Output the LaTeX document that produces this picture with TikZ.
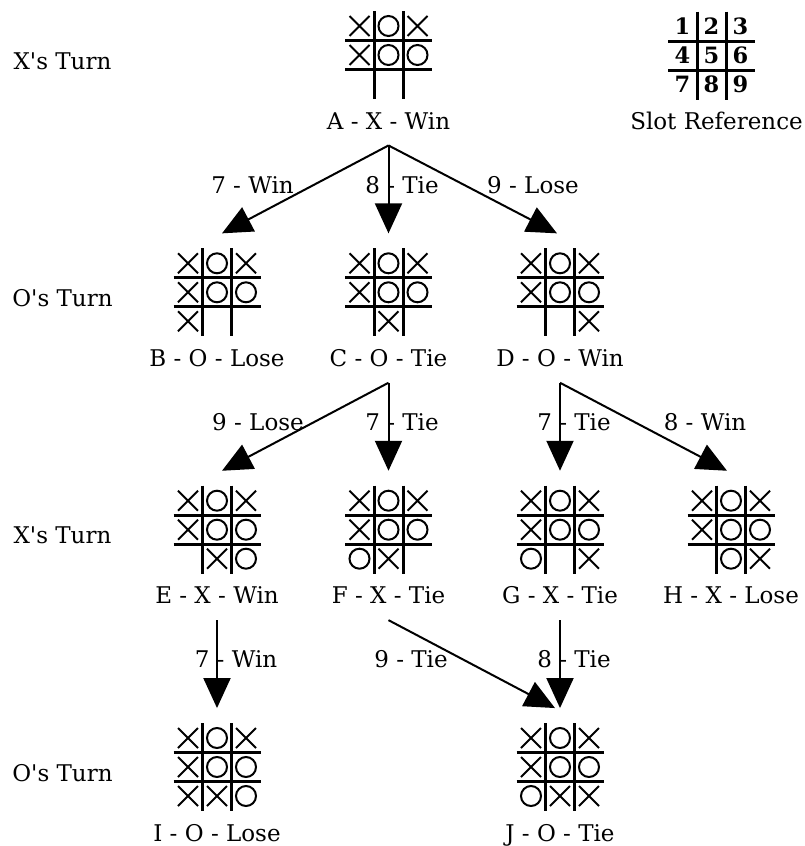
\documentclass[tikz,border=0pt]{standalone}
\usepackage{fontspec}
\setmainfont{DejaVu Serif}[Ligatures=TeXOff]
\usetikzlibrary{arrows.meta}

\tikzset{
  gridline/.style={line width=3pt},
  markline/.style={line width=2pt},
  edge/.style={line width=2pt, -{Triangle[length=30pt,width=27pt]}},
  statebox/.style={draw=none, minimum width=100pt, minimum height=149pt, inner sep=0pt},
  caption/.style={font=\fontsize{23}{27}\selectfont, anchor=base, inner sep=0pt},
  elabel/.style={font=\fontsize{23}{27}\selectfont, anchor=base, inner sep=0pt},
  slotnum/.style={font=\bfseries\fontsize{22.5}{26}\selectfont, inner sep=0pt},
}

% empty 3x3 grid centred on the current origin
\newcommand\tttgrid{%
  \draw[gridline] (-14.5,-44) -- (-14.5,44) (14.5,-44) -- (14.5,44)
                  (-43.5,-14.5) -- (43.5,-14.5) (-43.5,14.5) -- (43.5,14.5);}

% board at #1 with crosses in cells #2 and noughts in cells #3 (cells 1..9)
\newcommand\tttboard[3]{%
  \begin{scope}[shift={#1}]
    \tttgrid
    \foreach \k in {#2} {
      \pgfmathsetmacro\cx{29*(mod(\k-1,3)-1)}
      \pgfmathsetmacro\cy{29*(div(\k-1,3)-1)}
      \draw[markline] (\cx-10,\cy-10) -- (\cx+10,\cy+10)
                      (\cx-10,\cy+10) -- (\cx+10,\cy-10);
    }
    \foreach \k in {#3} {
      \pgfmathsetmacro\cx{29*(mod(\k-1,3)-1)}
      \pgfmathsetmacro\cy{29*(div(\k-1,3)-1)}
      \draw[markline] (\cx,\cy) circle[radius=10pt];
    }
  \end{scope}}

% one game state: name, x, row y, crosses, noughts, caption
\newcommand\gamestate[6]{%
  \node[statebox] (#1) at (#2,#3+15.75) {};
  \tttboard{(#2,#3)}{#4}{#5}
  \node[caption] (#1-cap) at (#2,#3+74) {#6};}

\begin{document}
\begin{tikzpicture}[x=1pt, y=-1pt]
  \useasboundingbox (0,0) rectangle (804,846);

  % row heights and column positions
  \def\ra{55}\def\rb{292.3}\def\rc{529.7}\def\rd{767}
  \def\ca{217}\def\cb{388.5}\def\cc{560}\def\cd{731}

  % turn captions
  \node[caption] (t1) at (62.5,\ra+14) {X's Turn};
  \node[caption] (t2) at (62.5,\rb+14) {O's Turn};
  \node[caption] (t3) at (62.5,\rc+14) {X's Turn};
  \node[caption] (t4) at (62.5,\rd+14) {O's Turn};

  % game states
  \gamestate{A}{\cb}{\ra}{1,3,4}{2,5,6}{A - X - Win}
  \gamestate{B}{\ca}{\rb}{1,3,4,7}{2,5,6}{B - O - Lose}
  \gamestate{C}{\cb}{\rb}{1,3,4,8}{2,5,6}{C - O - Tie}
  \gamestate{D}{\cc}{\rb}{1,3,4,9}{2,5,6}{D - O - Win}
  \gamestate{E}{\ca}{\rc}{1,3,4,8}{2,5,6,9}{E - X - Win}
  \gamestate{F}{\cb}{\rc}{1,3,4,8}{2,5,6,7}{F - X - Tie}
  \gamestate{G}{\cc}{\rc}{1,3,4,9}{2,5,6,7}{G - X - Tie}
  \gamestate{H}{\cd}{\rc}{1,3,4,9}{2,5,6,8}{H - X - Lose}
  \gamestate{I}{\ca}{\rd}{1,3,4,7,8}{2,5,6,9}{I - O - Lose}
  \gamestate{J}{\cc}{\rd}{1,3,4,8,9}{2,5,6,7}{J - O - Tie}

  % slot reference grid
  \begin{scope}[shift={(711.5,55.5)}]
    \tttgrid
    \foreach \k in {1,...,9} {
      \pgfmathsetmacro\cx{29*(mod(\k-1,3)-1)}
      \pgfmathsetmacro\cy{29*(div(\k-1,3)-1)}
      \node[slotnum] (slot\k) at (\cx,\cy) {\k};
    }
  \end{scope}
  \node[caption] (slotref) at (716.5,\ra+74) {Slot Reference};

  % moves
  \draw[edge] (A.south) -- ([xshift=5pt]B.north);
  \draw[edge] (A.south) -- (C.north);
  \draw[edge] (A.south) -- ([xshift=-3pt]D.north);
  \draw[edge] (C.south) -- ([xshift=5pt]E.north);
  \draw[edge] (C.south) -- (F.north);
  \draw[edge] (D.south) -- (G.north);
  \draw[edge] (D.south) -- ([xshift=-4pt]H.north);
  \draw[edge] (E.south) -- (I.north);
  \draw[edge] (F.south) -- ([xshift=-5pt]J.north);
  \draw[edge] (G.south) -- (J.north);

  % move captions
  \node[elabel] (m1) at (252.5,193) {7 - Win};
  \node[elabel] (m2) at (402,193) {8 - Tie};
  \node[elabel] (m3) at (533,193) {9 - Lose};
  \node[elabel] (m4) at (258,430.3) {9 - Lose};
  \node[elabel] (m5) at (402,430.3) {7 - Tie};
  \node[elabel] (m6) at (574,430.3) {7 - Tie};
  \node[elabel] (m7) at (705,430.3) {8 - Win};
  \node[elabel] (m8) at (236,667.7) {7 - Win};
  \node[elabel] (m9) at (411,667.7) {9 - Tie};
  \node[elabel] (m10) at (574,667.7) {8 - Tie};
\end{tikzpicture}
\end{document}
